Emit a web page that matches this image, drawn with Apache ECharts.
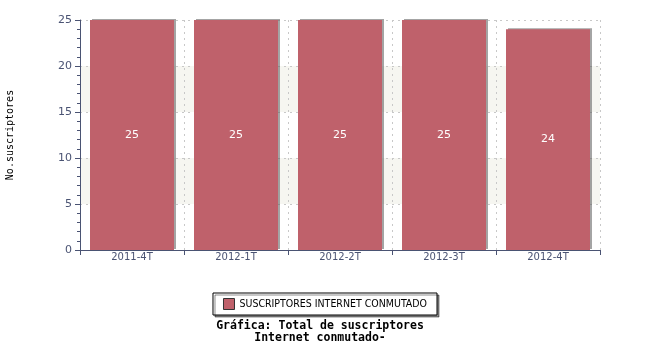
<!DOCTYPE html>
<html><head><meta charset="utf-8">
<script src="https://cdn.jsdelivr.net/npm/echarts@6/dist/echarts.min.js"></script>
<style>html,body{margin:0;padding:0;background:#fff}#c{width:650px;height:350px}</style>
</head><body><div id="c"></div>
<script>
var categories = ['2011-4T', '2012-1T', '2012-2T', '2012-3T', '2012-4T'];
var values = [25, 25, 25, 25, 24];
var seriesName = 'SUSCRIPTORES INTERNET CONMUTADO';
var yAxisName = 'No.suscriptores';
var titleText = 'Gráfica: Total de suscriptores\nInternet conmutado-';

var axisColor = '#4a5373';
var chart = echarts.init(document.getElementById('c'), null, {renderer: 'canvas'});
chart.setOption({
  animation: false,
  backgroundColor: '#fff',
  title: {
    text: titleText, left: 320, top: 320, padding: 0, textAlign: 'center',
    textStyle: {fontFamily: 'DejaVu Sans Mono', fontWeight: 'bold', fontSize: 11.5, color: '#000', lineHeight: 12}
  },
  legend: {
    data: [seriesName], left: 'center', top: 293,
    backgroundColor: '#fff', borderColor: '#000', borderWidth: 1, padding: [5, 10, 5, 10],
    shadowColor: 'rgba(0,0,0,0.45)', shadowOffsetX: 2, shadowOffsetY: 2, shadowBlur: 0,
    itemWidth: 11, itemHeight: 11, itemGap: 5, icon: 'rect',
    itemStyle: {borderColor: '#333', borderWidth: 1, shadowColor: 'transparent'},
    textStyle: {fontFamily: 'DejaVu Sans Condensed', fontSize: 10.5, color: '#000'}
  },
  grid: {left: 80, right: 50, top: 20, bottom: 100, outerBoundsMode: 'none', containLabel: false},
  xAxis: {
    type: 'category', data: categories,
    axisLine: {lineStyle: {color: axisColor, width: 1}},
    axisTick: {show: true, length: 5, lineStyle: {color: axisColor}},
    axisLabel: {fontFamily: 'DejaVu Sans', fontSize: 10, color: axisColor, margin: 2},
    splitLine: {show: true, lineStyle: {color: '#c8c8c8', type: [2, 4]}}
  },
  yAxis: {
    type: 'value', min: 0, max: 25, interval: 5,
    name: yAxisName, nameLocation: 'middle', nameGap: 65, nameRotate: 90,
    nameTextStyle: {fontFamily: 'DejaVu Sans Mono', fontSize: 10, color: '#000'},
    axisLine: {show: true, lineStyle: {color: axisColor, width: 1}},
    axisTick: {show: true, length: 5, lineStyle: {color: axisColor}},
    minorTick: {show: true, splitNumber: 5, length: 3, lineStyle: {color: axisColor}},
    axisLabel: {fontFamily: 'DejaVu Sans', fontSize: 11, color: axisColor, margin: 8},
    splitLine: {show: true, lineStyle: {color: '#c8c8c8', type: [2, 4]}},
    splitArea: {show: true, areaStyle: {color: ['#ffffff', '#f6f6f1']}}
  },
  series: [{
    name: seriesName, type: 'bar', data: values, barWidth: 84,
    itemStyle: {color: '#bf616b', shadowColor: 'rgba(90,90,90,0.55)', shadowOffsetX: 2, shadowOffsetY: -1, shadowBlur: 0},
    label: {show: true, position: 'inside', color: '#fff', fontFamily: 'DejaVu Sans', fontSize: 11}
  }]
});
</script></body></html>
